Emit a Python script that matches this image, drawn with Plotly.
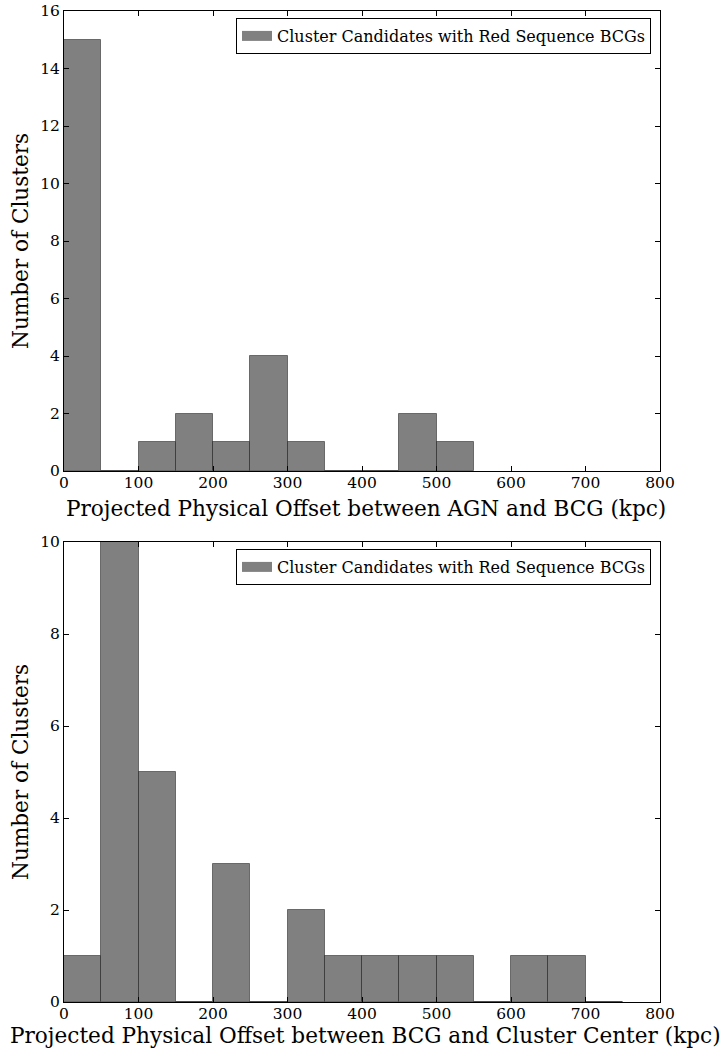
import numpy as np
import plotly.graph_objects as go

# Data
bin_edges_top = [0, 50, 100, 150, 200, 250, 300, 350, 400, 450, 500, 550]
counts_top = [15, 0, 1, 2, 1, 4, 1, 0, 0, 2, 1]

bin_edges_bottom = [0, 50, 100, 150, 200, 250, 300, 350, 400, 450, 500, 550, 600, 650, 700, 750]
counts_bottom = [1, 10, 5, 0, 3, 0, 2, 1, 1, 1, 1, 0, 1, 1, 0]

legend_label = "Cluster Candidates with Red Sequence BCGs"
xlabel_top = "Projected Physical Offset between AGN and BCG (kpc)"
xlabel_bottom = "Projected Physical Offset between BCG and Cluster Center (kpc)"
ylabel = "Number of Clusters"

FONT = "DejaVu Serif"
W, H = 728, 1051
# plot area in page pixels: x 64..660, y 11..1002
L, T = 64, 11
R = W - 660
B = H - 1002
PW = W - L - R
PH = H - T - B

def py(page_y):
    return (1002 - page_y) / PH

def px(page_x):
    return (page_x - 64) / PW

def bars(edges, counts, xaxis, yaxis):
    e = np.array(edges, dtype=float)
    centers = (e[:-1] + e[1:]) / 2
    widths = np.diff(e)
    return go.Bar(
        x=centers, y=counts, width=widths,
        marker=dict(color="#808080", line=dict(color="rgba(0,0,0,0.45)", width=1)),
        name=legend_label, xaxis=xaxis, yaxis=yaxis, showlegend=False,
    )

def legend_key(xaxis, yaxis, legend):
    return go.Scatter(
        x=[None], y=[None], mode="lines", xaxis=xaxis, yaxis=yaxis,
        line=dict(color="#808080", width=12), name=legend_label,
        legend=legend, showlegend=True,
    )

fig = go.Figure()
fig.add_trace(bars(bin_edges_top, counts_top, "x", "y"))
fig.add_trace(bars(bin_edges_bottom, counts_bottom, "x2", "y2"))
fig.add_trace(legend_key("x", "y", "legend"))
fig.add_trace(legend_key("x2", "y2", "legend2"))

axis_common = dict(
    showline=True, linecolor="black", linewidth=1, mirror="allticks",
    ticks="inside", ticklen=5, tickwidth=1, tickcolor="black",
    showgrid=False, zeroline=False, automargin=False, ticklabeloverflow="allow",
    tickfont=dict(family=FONT, size=15.5, color="black"),
)
xaxis_extra = dict(range=[0, 800], dtick=100, tick0=0, domain=[0, 1], ticklabelstandoff=-3)

top_dom = [py(471), py(11)]
bot_dom = [py(1002), py(542)]

legend_common = dict(
    xanchor="right", yanchor="top", bgcolor="white", bordercolor="black",
    borderwidth=1, font=dict(family=FONT, size=16, color="black"),
    itemwidth=30, tracegroupgap=0,
)

fig.update_layout(
    width=W, height=H,
    margin=dict(l=L, r=R, t=T, b=B, autoexpand=False),
    paper_bgcolor="white", plot_bgcolor="white",
    bargap=0,
    font=dict(family=FONT, color="black"),
    xaxis=dict(anchor="y", **xaxis_extra, **axis_common),
    yaxis=dict(range=[0, 16], dtick=2, tick0=0, anchor="x", domain=top_dom, **axis_common),
    xaxis2=dict(anchor="y2", **xaxis_extra, **axis_common),
    yaxis2=dict(range=[0, 10], dtick=2, tick0=0, anchor="x2", domain=bot_dom, **axis_common),
    legend=dict(x=px(651), y=py(18), **legend_common),
    legend2=dict(x=px(651), y=py(549), **legend_common),
)

ann_font = dict(family=FONT, size=21.6, color="black")
fig.add_annotation(text=xlabel_top, xref="paper", yref="paper", x=px(366), y=py(508),
                   xanchor="center", yanchor="middle", showarrow=False, font=ann_font)
fig.add_annotation(text=xlabel_bottom, xref="paper", yref="paper", x=px(365), y=py(1035),
                   xanchor="center", yanchor="middle", showarrow=False, font=ann_font)
fig.add_annotation(text=ylabel, xref="paper", yref="paper", x=px(20), y=py(241),
                   xanchor="center", yanchor="middle", showarrow=False, textangle=-90, font=ann_font)
fig.add_annotation(text=ylabel, xref="paper", yref="paper", x=px(20), y=py(772),
                   xanchor="center", yanchor="middle", showarrow=False, textangle=-90, font=ann_font)

fig.write_html(
    "out.html",
    config={"displayModeBar": False},
    post_script="document.body.style.margin='0';document.body.style.overflow='hidden';",
)
